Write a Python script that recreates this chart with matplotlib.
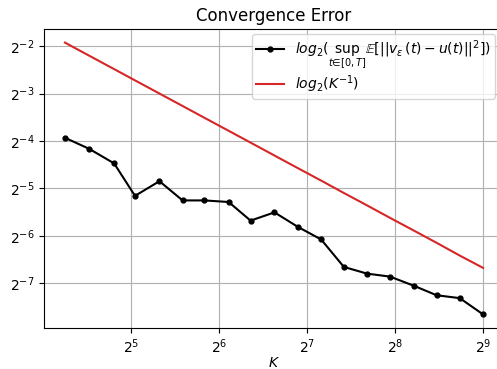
import matplotlib
matplotlib.use("Agg")
import matplotlib.pyplot as plt

# number of steps K
K = [19, 23, 28, 33, 40, 48, 57, 69, 82, 99, 119, 143, 171, 205, 246, 296, 355, 426, 512]

# sup_t E[|v_eps(t) - u(t)|^2]
err = [0.0655, 0.0557, 0.0450, 0.0280, 0.0347, 0.0262, 0.0262, 0.0256, 0.0195, 0.0220,
       0.0178, 0.0148, 0.00991, 0.00899, 0.00860, 0.00754, 0.00655, 0.00628, 0.00495]

# reference rate ~ K^-1
ref = [0.2632, 0.2174, 0.1786, 0.1515, 0.125, 0.1042, 0.0877, 0.0725, 0.0610, 0.0505,
       0.0420, 0.0350, 0.0292, 0.0244, 0.0203, 0.0169, 0.0141, 0.0117, 0.00977]

fig = plt.figure(figsize=(4.97, 3.69), dpi=100)
ax = fig.add_axes([44 / 497, 1 - 328 / 369, 460 / 497, 299 / 369])

ax.plot(K, err, 'o-', color='black', markersize=3.5, linewidth=1.5,
        label=r'$log_2(\sup_{t\in[0,T]}\mathbb{E}[||v_\varepsilon(t)-u(t)||^2])$')
ax.plot(K, ref, color='tab:red', linewidth=1.5, label=r'$log_2(K^{-1})$')

ax.set_xscale('log', base=2)
ax.set_yscale('log', base=2)

ax.set_xlabel('$K$', labelpad=0)
ax.set_title('Convergence Error')
ax.grid(True)

ax.legend(loc='upper right', bbox_to_anchor=(495 / 497, 1 - 34 / 369),
          bbox_transform=fig.transFigure, borderaxespad=0,
          labelspacing=0.1, borderpad=0.3)

fig.savefig('out.png', dpi=100)
